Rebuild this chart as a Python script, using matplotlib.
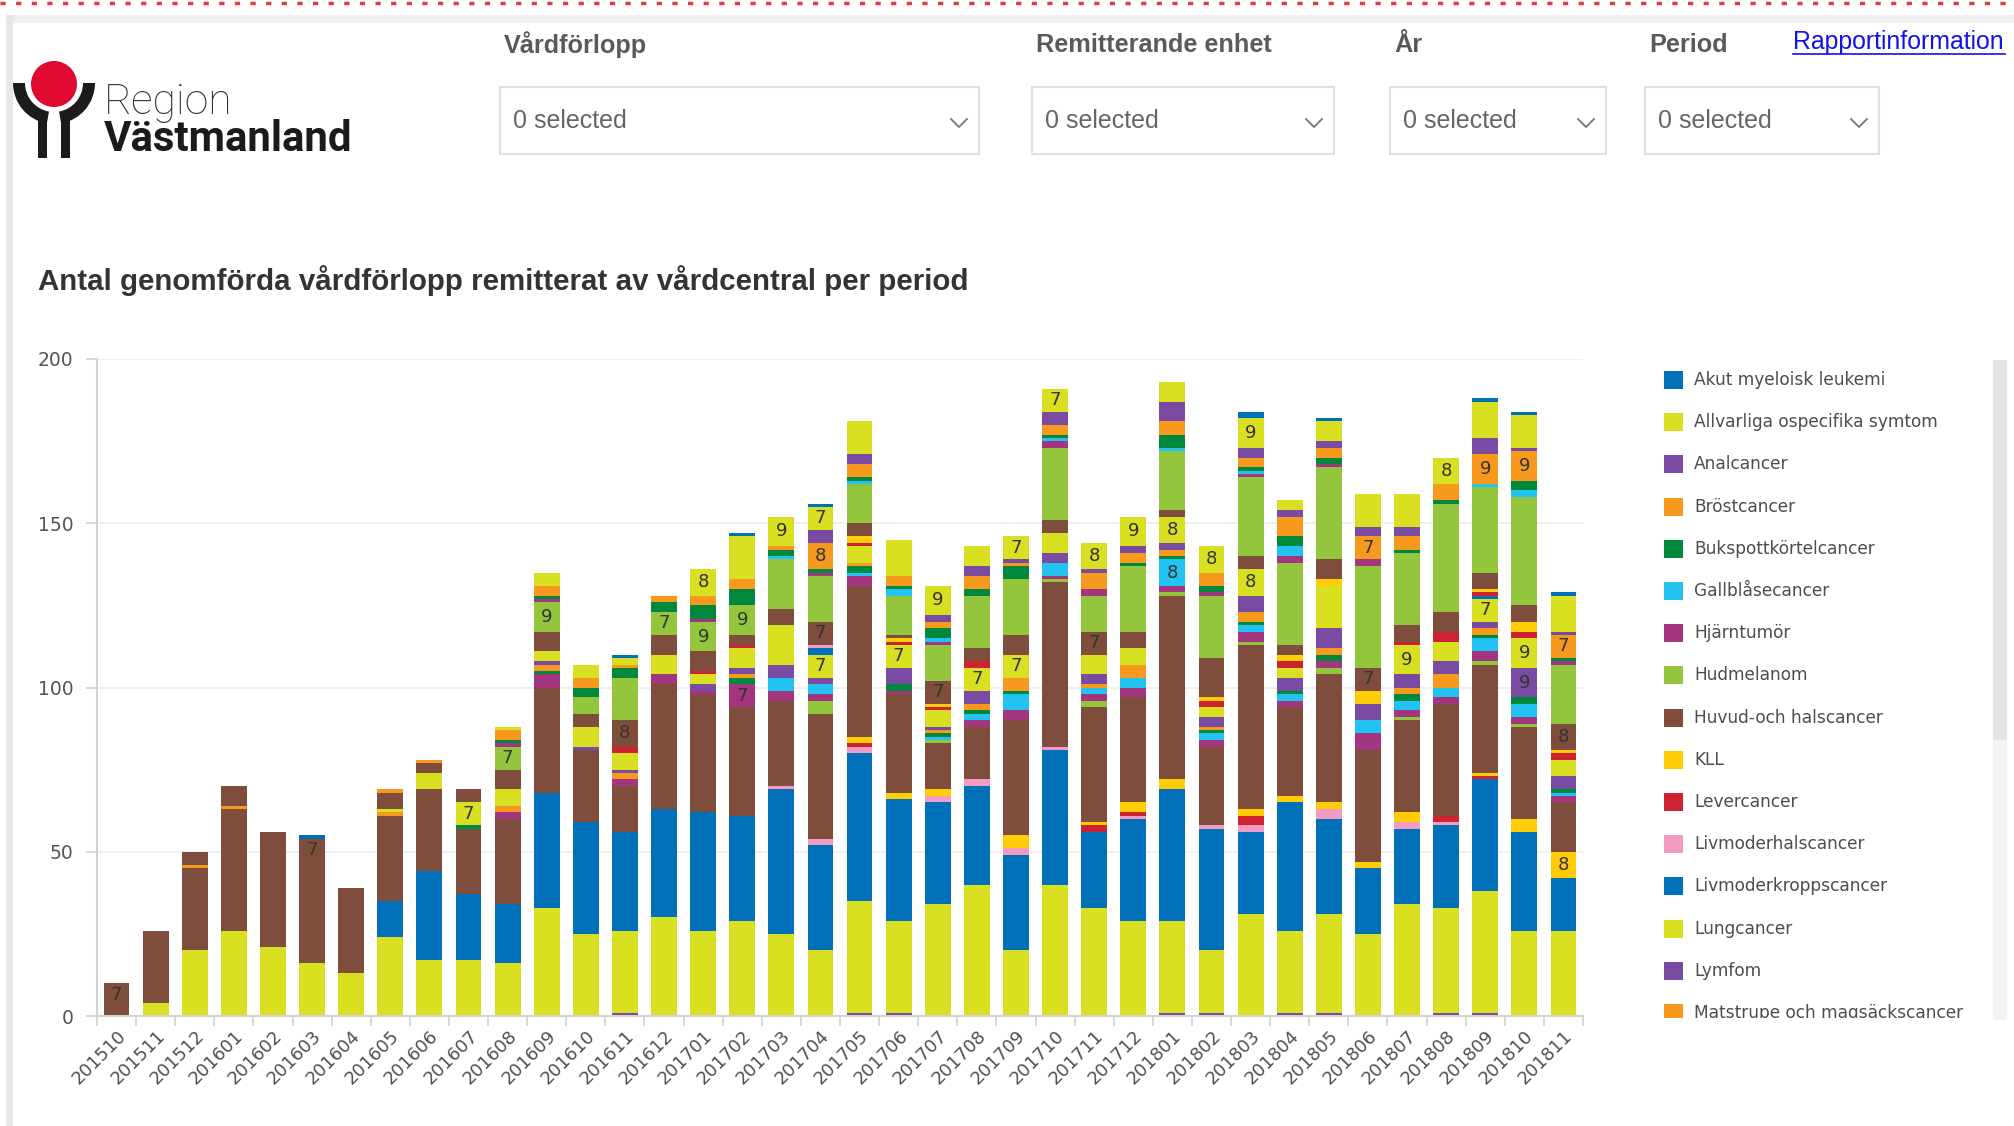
import matplotlib
matplotlib.use('Agg')
import matplotlib.pyplot as plt
from matplotlib.patches import Rectangle, Wedge, Circle

# Perioder på x-axeln
perioder = ['201510', '201511', '201512',
            '201601', '201602', '201603', '201604', '201605', '201606',
            '201607', '201608', '201609', '201610', '201611', '201612',
            '201701', '201702', '201703', '201704', '201705', '201706',
            '201707', '201708', '201709', '201710', '201711', '201712',
            '201801', '201802', '201803', '201804', '201805', '201806',
            '201807', '201808', '201809', '201810', '201811']

# Vårdförlopp (legendens ordning)
namn = ['Akut myeloisk leukemi', 'Allvarliga ospecifika symtom', 'Analcancer',
        'Bröstcancer', 'Bukspottkörtelcancer', 'Gallblåsecancer', 'Hjärntumör',
        'Hudmelanom', 'Huvud-och halscancer', 'KLL', 'Levercancer',
        'Livmoderhalscancer', 'Livmoderkroppscancer', 'Lungcancer', 'Lymfom',
        'Matstrupe och magsäckscancer', 'Myelom', 'Neuroendokrina buktumörer',
        'Njurcancer', 'Peniscancer', 'Prostatacancer', 'Sarkom',
        'Sköldkörtelcancer', 'Testikelcancer', 'Tjock- och ändtarmscancer',
        'Urinblåse- och urinvägscancer', 'Vulvacancer']

# Antal per period, en lista per vårdförlopp
akut_myeloisk = [0,0,0,0,0,1,0,0,0,0, 0,0,0,1,0,0,1,0,1,0, 0,0,0,0,0,0,0,0,0,2, 0,1,0,0,0,1,1,1]
allvarliga = [0,0,0,0,0,0,0,0,0,0, 1,4,4,2,0,8,13,9,7,10, 11,9,6,7,7,8,9,6,8,9, 3,6,10,10,8,11,10,11]
anal = [0,0,0,0,0,0,0,0,0,0, 0,0,0,0,0,0,0,0,4,3, 0,2,3,1,4,1,2,6,0,3, 2,2,3,3,0,5,1,1]
brost = [0,0,0,0,0,0,0,1,1,0, 3,3,3,1,2,3,3,1,8,4, 3,2,4,1,3,5,3,4,4,3, 6,3,7,4,5,9,9,7]
bukspott = [0,0,0,0,0,0,0,0,0,0, 1,1,3,3,3,4,5,2,1,1, 1,3,2,4,1,0,1,4,2,1, 3,2,0,1,1,0,3,1]
gallblasa = [0,0,0,0,0,0,0,0,0,0, 0,0,0,0,0,0,0,1,0,1, 2,1,0,0,1,0,0,1,0,1, 3,0,0,0,0,1,2,0]
hjarntumor = [0,0,0,0,0,0,0,0,0,0, 1,1,0,0,0,1,0,0,1,0, 0,1,0,0,2,2,0,0,1,1, 2,1,2,0,0,0,0,1]
hudmelanom = [0,0,0,0,0,0,0,0,0,0, 7,9,5,13,7,9,9,15,14,12, 12,11,16,17,22,11,20,18,19,24, 25,28,31,22,33,26,33,18]
huvud_hals = [7,0,4,6,0,7,0,5,3,4, 6,6,4,8,6,6,3,5,7,4, 1,7,4,6,4,7,5,2,12,4, 3,6,7,5,6,5,5,8]
kll = [0,0,0,0,0,0,0,0,0,0, 0,0,0,0,0,0,0,0,0,2, 1,1,0,0,0,0,0,0,1,0, 2,2,4,0,0,1,3,1]
lever = [0,0,0,0,0,0,0,0,0,0, 0,0,0,2,0,1,1,0,0,1, 1,1,2,0,0,0,0,0,2,0, 2,0,0,1,3,1,2,2]
livmoderhals = [0,0,0,0,0,0,0,0,0,0, 0,0,0,0,0,0,0,0,1,0, 0,0,0,0,0,0,0,0,0,0, 0,0,0,0,0,0,0,0]
livmoderkropp = [0,0,0,0,0,0,0,0,0,0, 0,0,0,0,0,0,0,0,2,0, 0,0,0,0,0,0,0,0,0,0, 0,0,0,0,0,1,0,0]
lunga = [0,0,0,0,0,0,0,1,5,7, 5,3,6,5,6,3,6,12,7,5, 7,5,7,7,6,6,5,8,3,8, 3,13,0,9,6,7,9,5]
lymfom = [0,0,0,0,0,0,0,0,0,0, 0,1,1,1,0,2,2,4,2,0, 5,1,4,0,3,3,0,2,3,5, 4,6,5,4,4,2,9,4]
matstrupe = [0,0,1,1,0,0,0,1,0,0, 2,2,0,2,0,0,1,0,0,1, 0,1,2,4,0,1,4,2,1,3, 0,2,0,2,4,2,0,0]
myelom = [0,0,0,0,0,0,0,0,0,1, 0,1,0,0,0,0,2,0,0,2, 2,1,1,1,0,0,0,1,1,1, 1,2,0,2,0,1,2,1]
neuroendokrina = [0,0,0,0,0,0,0,0,0,0, 0,0,0,0,0,0,0,4,3,1, 0,1,2,5,4,2,3,8,2,2, 2,0,4,3,3,4,4,1]
njure = [0,0,0,0,0,0,0,0,0,0, 2,4,0,2,3,1,7,3,2,3, 1,0,2,3,1,2,3,2,2,3, 2,2,5,2,2,3,2,2]
penis = [0,0,0,0,0,0,0,0,0,0, 0,0,0,0,0,0,0,0,4,0, 0,1,0,0,1,2,0,1,0,1, 0,2,0,1,0,1,1,0]
prostata = [3,22,25,37,35,31,26,26,25,20, 26,32,22,14,38,36,33,26,38,46, 30,14,16,35,50,35,32,56,24,50, 27,39,34,28,34,33,28,15]
sarkom = [0,0,0,0,0,0,0,0,0,0, 0,0,0,0,0,0,0,0,0,2, 2,2,0,4,0,1,3,3,0,2, 2,2,2,3,0,1,4,8]
skoldkortel = [0,0,0,0,0,0,0,0,0,0, 0,0,0,0,0,0,0,0,0,1, 0,0,0,0,0,2,1,0,0,3, 0,0,0,0,2,1,0,0]
testikel = [0,0,0,0,0,0,0,0,0,0, 0,0,0,0,0,0,0,1,2,2, 0,2,2,2,1,0,1,0,1,2, 0,3,0,2,1,0,0,0]
tjocktarm = [0,0,0,0,0,0,0,11,27,20, 18,35,34,30,33,36,32,44,32,45, 37,31,30,29,41,23,31,40,37,25, 39,29,20,23,25,34,30,16]
urinblasa = [0,4,20,26,21,16,13,24,17,17, 16,33,25,25,30,26,29,25,20,34, 28,34,40,20,40,33,29,28,19,31, 25,30,25,34,32,37,26,26]
vulva = [0,0,0,0,0,0,0,0,0,0, 0,0,0,1,0,0,0,0,0,1, 1,0,0,0,0,0,0,1,1,0, 1,1,0,0,1,1,0,0]

varden = [akut_myeloisk, allvarliga, anal, brost, bukspott, gallblasa, hjarntumor,
          hudmelanom, huvud_hals, kll, lever, livmoderhals, livmoderkropp, lunga,
          lymfom, matstrupe, myelom, neuroendokrina, njure, penis, prostata, sarkom,
          skoldkortel, testikel, tjocktarm, urinblasa, vulva]

# Power BI-paletten, upprepas var tolfte serie
farger = ['#0070b9', '#d9e021', '#7a4ba3', '#f7991d', '#00883d', '#22c3f0',
          '#a3367f', '#93c63d', '#7e4d3b', '#ffcc05', '#cd2232', '#f39cc3']

W, H = 2015, 1126
fig = plt.figure(figsize=(W / 100, H / 100), dpi=100)


def passa_bredd(t, bredd):
    # skala textstorleken så att texten blir 'bredd' pixlar bred
    r = fig.canvas.get_renderer()
    b = t.get_window_extent(renderer=r).width
    t.set_fontsize(t.get_fontsize() * bredd / b)
    return t.get_fontsize()


# Bakgrund med sidhuvud (koordinater i pixlar)
bg = fig.add_axes([0, 0, 1, 1])
bg.set_xlim(0, W)
bg.set_ylim(H, 0)
bg.axis('off')

bg.plot([0, W], [3, 3], color='#e23a4c', lw=2.5, dashes=[1.5, 3])
bg.add_patch(Rectangle((6, 15), W, 8, color='#f0f0f0', lw=0))
bg.add_patch(Rectangle((6, 15), 7, H, color='#e6e6e6', lw=0))

# Logotyp
bg.add_patch(Wedge((54, 83), 41, 100, 180, width=12, color='#1b1b1b', lw=0))
bg.add_patch(Wedge((54, 83), 41, 0, 80, width=12, color='#1b1b1b', lw=0))
bg.add_patch(Rectangle((38, 112), 9, 46, color='#1b1b1b', lw=0))
bg.add_patch(Rectangle((61, 112), 9, 46, color='#1b1b1b', lw=0))
bg.add_patch(Circle((54, 84), 23, color='#e0092f', lw=0))
t = bg.text(104, 114, 'Region', fontsize=20, color='#333333', family='Roboto',
            fontweight='light')
passa_bredd(t, 129)
t = bg.text(104, 151, 'Västmanland', fontsize=20, color='#1b1b1b', family='Roboto',
            fontweight='bold')
passa_bredd(t, 248)

# Filter med rullgardiner
filter_rubriker = ['Vårdförlopp', 'Remitterande enhet', 'År', 'Period']
filter_x = [(500, 979), (1032, 1334), (1390, 1606), (1645, 1879)]
rubrik_storlek = None
val_storlek = None
for rubrik, (x0, x1) in zip(filter_rubriker, filter_x):
    t = bg.text(x0 + 4, 45, rubrik, color='#5a5a5a', family='Liberation Sans',
                fontweight='bold', fontsize=18, va='center')
    if rubrik_storlek is None:
        rubrik_storlek = passa_bredd(t, 143)
    t.set_fontsize(rubrik_storlek)
    bg.add_patch(Rectangle((x0, 87), x1 - x0, 67, facecolor='white',
                           edgecolor='#e0e0e0', lw=1.5))
    t = bg.text(x0 + 13, 121, '0 selected', color='#666666', family='Liberation Sans',
                fontsize=18, va='center')
    if val_storlek is None:
        val_storlek = passa_bredd(t, 114)
    t.set_fontsize(val_storlek)
    cx = x1 - 20
    bg.plot([cx - 8, cx, cx + 8], [119, 127, 119], color='#777777', lw=1.3)

t = bg.text(1793, 42, 'Rapportinformation', color='#1111ee', family='Liberation Sans',
            fontsize=18, va='center')
passa_bredd(t, 212)
bg.plot([1793, 2005], [54, 54], color='#1111ee', lw=1.2)

# Diagramrubrik
t = bg.text(38, 281, 'Antal genomförda vårdförlopp remitterat av vårdcentral per period',
            color='#333333', family='Liberation Sans', fontweight='bold',
            fontsize=20, va='center')
passa_bredd(t, 928)

# Rullningslist vid legenden
bg.add_patch(Rectangle((1993, 360), 14, 660, color='#f4f4f4', lw=0))
bg.add_patch(Rectangle((1993, 360), 14, 380, color='#e4e4e4', lw=0))

# Staplat stapeldiagram
ax = fig.add_axes([97 / W, 1 - 1016 / H, 1486 / W, 657 / H])
x = list(range(len(perioder)))
botten = [0] * len(perioder)
for i in reversed(range(len(namn))):
    v = varden[i]
    ax.bar(x, v, 0.66, bottom=botten, color=farger[i % 12], linewidth=0)
    for j in x:
        if 7 <= v[j] <= 9:
            ax.text(j, botten[j] + v[j] / 2, str(v[j]), ha='center', va='center',
                    fontsize=13, color='#333333')
    botten = [b + vv for b, vv in zip(botten, v)]

ax.set_xlim(-0.5, len(perioder) - 0.5)
ax.set_ylim(0, 200)
ax.set_yticks([0, 50, 100, 150, 200])
ax.yaxis.grid(True, color='#efefef', linewidth=1.3)
ax.set_axisbelow(True)
ax.spines['top'].set_visible(False)
ax.spines['right'].set_visible(False)
for s in ['left', 'bottom']:
    ax.spines[s].set_color('#d2d2d2')
    ax.spines[s].set_linewidth(1.5)
ax.tick_params(axis='y', length=8, width=1.2, color='#d2d2d2', labelsize=13.5,
               labelcolor='#555555', pad=9)
ax.set_xticks(x)
ax.set_xticklabels(perioder, rotation=45, ha='right', rotation_mode='anchor')
ax.tick_params(axis='x', which='major', length=0, pad=8, labelsize=13,
               labelcolor='#505050')
ax.set_xticks([k - 0.5 for k in range(len(perioder) + 1)], minor=True)
ax.tick_params(axis='x', which='minor', length=7, width=1.2, color='#d2d2d2')

# Legend: bara de rader som syns innan rullningen (den sista klipps nertill)
lg = fig.add_axes([1655 / W, 1 - 1018 / H, 335 / W, 658 / H])
lg.set_xlim(1655, 1990)
lg.set_ylim(1018, 360)
lg.axis('off')
leg_storlek = None
for i, n in enumerate(namn[:16]):
    y = 380 + 42.2 * i
    lg.add_patch(Rectangle((1664, y - 9), 19, 18, color=farger[i % 12], lw=0))
    t = lg.text(1694, y, n, va='center', fontsize=12, color='#4d4d4d',
                family='DejaVu Sans', clip_on=True)
    if leg_storlek is None:
        leg_storlek = passa_bredd(t, 192)
    t.set_fontsize(leg_storlek)

fig.savefig('out.png', dpi=100)
